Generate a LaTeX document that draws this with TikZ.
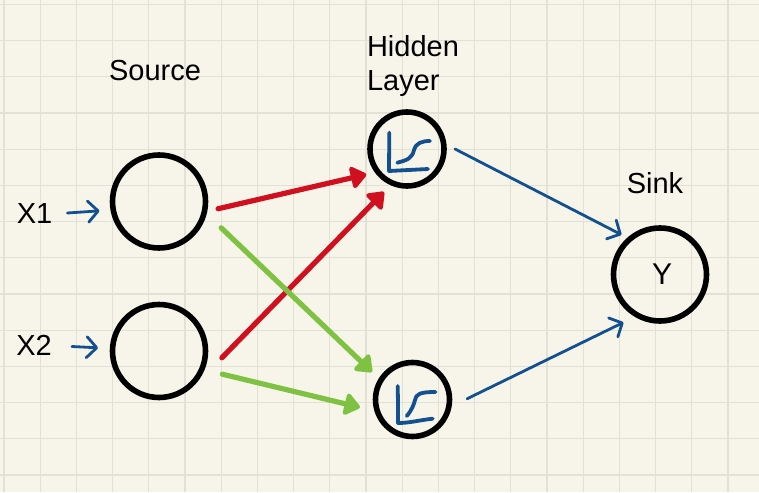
\documentclass[tikz,border=0pt]{standalone}
\usepackage{fontspec}
\setmainfont{Liberation Sans}
\usetikzlibrary{arrows.meta}

\definecolor{paper}{HTML}{F7F5E9}
\definecolor{gridline}{HTML}{E3E1D5}
\definecolor{inkblue}{HTML}{12508F}
\definecolor{inkred}{HTML}{D0101E}
\definecolor{inkgreen}{HTML}{7FC243}

\tikzset{
  label/.style={font=\fontsize{29}{34}\selectfont,inner sep=0pt},
  neuron/.style={circle,draw=black,line width=5.6pt,font=\fontsize{30}{34}\selectfont,inner sep=0pt},
  source/.style={neuron,minimum size=93pt,outer sep=13pt},
  hidden/.style={neuron,minimum size=74pt,outer sep=11pt},
  sink/.style={neuron,minimum size=93pt,outer sep=6pt},
  thick arrow/.style={line width=5.2pt,line cap=round,-{Triangle[length=17pt,width=25pt,round]}},
  thin arrow/.style={line width=2.8pt,color=inkblue,line cap=round,-{Straight Barb[length=10pt,width=21pt,round]}},
  curve/.style={line width=3.8pt,color=inkblue,line cap=round,line join=round},
}

\begin{document}
\begin{tikzpicture}[x=1pt,y=-1pt]
\useasboundingbox (0,0) rectangle (759,492);
\fill[paper] (0,0) rectangle (759,492);

% squared paper
\foreach \k in {0,...,20} {
  \draw[gridline,line width=1.2pt] ({4+36.2*\k},0) -- ({4+36.2*\k},492);
}
\foreach \k in {0,...,13} {
  \draw[gridline,line width=1.2pt] (0,{4.3+36.2*\k}) -- (759,{4.3+36.2*\k});
}

\node[label] (titlesource) at (155,71) {Source};
\node[label,align=left] (titlehidden) at (413,66.5) {Hidden\\Layer};
\node[label] (titlesink) at (655,183) {Sink};
\node[label] (x1) at (34.5,214) {X1};
\node[label] (x2) at (34,345.5) {X2};

\node[source] (source1) at (159,201.5) {};
\node[source] (source2) at (159,351) {};
\node[hidden] (hidden1) at (407,149) {};
\node[hidden] (hidden2) at (412.5,399.5) {};
\node[sink] (sink) at (660,274.5) {\hspace{4pt}Y};

\draw[thin arrow,shorten <=15pt,shorten >=0.7pt] (x1.east) -- (source1.189.3);
\draw[thin arrow,shorten <=20pt,shorten >=1.5pt] (x2.east) -- (source2.177);

\draw[thick arrow,color=inkred] (source1.-7.2) -- (hidden1.212.8);
\draw[thick arrow,color=inkred,shorten <=6.4pt,shorten >=0.8pt] (source2.-11.2) -- (hidden1.242.2);
\draw[thick arrow,color=inkgreen,shorten <=8.6pt,shorten >=1pt] (source1.-20.2) -- (hidden2.146.1);
\draw[thick arrow,color=inkgreen,shorten <=8pt,shorten >=5.6pt] (source2.-21.8) -- (hidden2.191.8);

\draw[thin arrow,shorten >=3pt] (hidden1.0) -- (sink.133.6);
\draw[thin arrow,shorten <=7.4pt,shorten >=8.8pt] (hidden2.-3.2) -- (sink.237.7);

% activation sketches
\draw[curve] (389.3,132.7) -- (389,171) -- (428,169);
\draw[curve] (397.3,162.7) .. controls (408,160) and (412,158) .. (414,150) .. controls (416,143) and (422,141) .. (430,141);
\draw[curve] (397.7,386) .. controls (398,400) and (398,412) .. (398,423) .. controls (410,423) and (420,420) .. (432.7,418.7);
\draw[curve] (406.7,416) .. controls (412,410) and (414,404) .. (415,400) .. controls (416,394) and (420,392) .. (435.5,392);
\end{tikzpicture}
\end{document}
